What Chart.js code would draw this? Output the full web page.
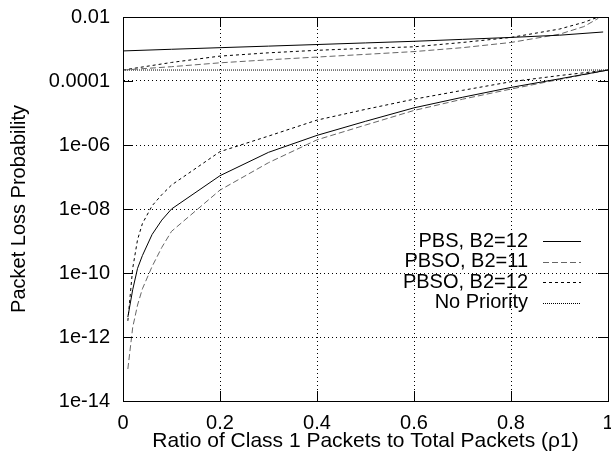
<!DOCTYPE html>
<html>
<head>
<meta charset="utf-8">
<script src="https://cdn.jsdelivr.net/npm/chart.js@4.4.1/dist/chart.umd.min.js"></script>
<style>
  html, body { margin: 0; padding: 0; background: #fff; }
  #wrap { width: 611px; height: 452px; }
</style>
</head>
<body>
<div id="wrap"><canvas id="lossChart"></canvas></div>
<script>
// x positions of the class 1 curves (lower branch)
const xClass1 = [0.01, 0.02, 0.03, 0.04, 0.06, 0.08, 0.1, 0.2, 0.3, 0.4, 0.5, 0.6, 0.7, 0.8, 0.9, 1.0];
const pbsClass1    = [4.2e-12, 3.0e-11, 1.4e-10, 3.5e-10, 1.6e-9, 4.5e-9, 1.0e-8, 1.1e-7, 5.9e-7, 2.0e-6, 5.5e-6, 1.45e-5, 3.1e-5, 6.3e-5, 1.17e-4, 2.2e-4];
const pbso11Class1 = [1.0e-13, 2.0e-12, 1.0e-11, 3.2e-11, 1.6e-10, 6.3e-10, 2.0e-9, 3.9e-8, 2.8e-7, 1.45e-6, 4.2e-6, 1.2e-5, 2.7e-5, 5.6e-5, 1.12e-4, 2.2e-4];
const pbso12Class1 = [3.2e-12, 1.4e-10, 1.1e-9, 3.5e-9, 1.26e-8, 2.8e-8, 5.6e-8, 6.2e-7, 1.9e-6, 6.0e-6, 1.3e-5, 2.7e-5, 5.1e-5, 9.5e-5, 1.48e-4, 2.2e-4];

// class 2 curves (upper branch)
const xPbsClass2  = [0, 0.1, 0.2, 0.3, 0.4, 0.5, 0.6, 0.7, 0.8, 0.9, 0.99];
const pbsClass2   = [8.7e-4, 9.8e-4, 1.1e-3, 1.23e-3, 1.38e-3, 1.55e-3, 1.74e-3, 2.0e-3, 2.3e-3, 2.7e-3, 3.4e-3];
const xPbsoClass2 = [0, 0.1, 0.2, 0.3, 0.4, 0.5, 0.6, 0.7, 0.8, 0.9, 0.95, 0.98];
const pbso12Class2 = [2.2e-4, 3.8e-4, 6.0e-4, 7.6e-4, 9.1e-4, 1.05e-3, 1.17e-3, 1.6e-3, 2.3e-3, 4.2e-3, 6.8e-3, 1.0e-2];
const pbso11Class2 = [2.2e-4, 2.8e-4, 3.7e-4, 4.6e-4, 5.6e-4, 6.8e-4, 8.3e-4, 1.1e-3, 1.6e-3, 2.9e-3, 5.0e-3, 9.1e-3];

const xNoPriority = [0, 0.2, 0.4, 0.6, 0.8, 1.0];
const noPriority  = [2.2e-4, 2.2e-4, 2.2e-4, 2.2e-4, 2.2e-4, 2.2e-4];

const xTicks = [0, 0.2, 0.4, 0.6, 0.8, 1];
const xTickLabels = ['0', '0.2', '0.4', '0.6', '0.8', '1'];
const yTicks = [1e-14, 1e-12, 1e-10, 1e-8, 1e-6, 1e-4, 1e-2];
const yTickLabels = ['1e-14', '1e-12', '1e-10', '1e-08', '1e-06', '0.0001', '0.01'];
const legendLabels = ['PBS, B2=12', 'PBSO, B2=11', 'PBSO, B2=12', 'No Priority'];

function pts(xs, ys) {
  return xs.map((x, i) => ({ x: x, y: ys[i] }));
}

const styles = [
  { color: '#000', dash: [] },
  { color: '#666', dash: [6, 3] },
  { color: '#000', dash: [3, 3] },
  { color: '#000', dash: [1, 1] }
];

function line(data, s, label) {
  return {
    label: label,
    data: data,
    borderColor: s.color,
    borderDash: s.dash,
    borderWidth: 1,
    pointRadius: 0,
    tension: 0,
    fill: false
  };
}

const datasets = [
  line(pts(xClass1, pbsClass1), styles[0], legendLabels[0]),
  line(pts(xPbsClass2, pbsClass2), styles[0], ''),
  line(pts(xClass1, pbso11Class1), styles[1], legendLabels[1]),
  line(pts(xPbsoClass2, pbso11Class2), styles[1], ''),
  line(pts(xClass1, pbso12Class1), styles[2], legendLabels[2]),
  line(pts(xPbsoClass2, pbso12Class2), styles[2], ''),
  line(pts(xNoPriority, noPriority), styles[3], legendLabels[3])
];

Chart.defaults.font.family = '"Liberation Sans", Arial, sans-serif';
Chart.defaults.font.size = 20;
Chart.defaults.color = '#000';

// gnuplot-like frame, inward ticks and key
const framePlugin = {
  id: 'frame',
  afterDatasetsDraw(chart) {
    const ctx = chart.ctx;
    const a = chart.chartArea;
    const xs = chart.scales.x, ys = chart.scales.y;
    ctx.save();
    ctx.strokeStyle = '#000';
    ctx.lineWidth = 1;
    ctx.setLineDash([]);
    ctx.beginPath();
    yTicks.forEach(v => {
      const p = Math.round(ys.getPixelForValue(v)) + 0.5;
      ctx.moveTo(a.left, p); ctx.lineTo(a.left + 10, p);
      ctx.moveTo(a.right, p); ctx.lineTo(a.right - 10, p);
    });
    xTicks.forEach(v => {
      const p = Math.round(xs.getPixelForValue(v)) + 0.5;
      ctx.moveTo(p, a.bottom); ctx.lineTo(p, a.bottom - 10);
      ctx.moveTo(p, a.top); ctx.lineTo(p, a.top + 10);
    });
    ctx.stroke();
    ctx.strokeRect(Math.round(a.left) + 0.5, Math.round(a.top) + 0.5,
      Math.round(a.right - a.left), Math.round(a.bottom - a.top));

    // key
    ctx.font = '20px "Liberation Sans", Arial, sans-serif';
    ctx.textAlign = 'right';
    ctx.textBaseline = 'middle';
    const textRight = a.right - 80;
    legendLabels.forEach((lab, i) => {
      const y = 241 + i * 20.5;
      ctx.fillStyle = '#000';
      ctx.fillText(lab, textRight, y);
      ctx.strokeStyle = styles[i].color;
      ctx.setLineDash(styles[i].dash);
      ctx.beginPath();
      ctx.moveTo(textRight + 15, Math.round(y) + 0.5);
      ctx.lineTo(textRight + 53, Math.round(y) + 0.5);
      ctx.stroke();
    });
    ctx.restore();
  }
};

new Chart(document.getElementById('lossChart'), {
  type: 'line',
  data: { datasets: datasets },
  options: {
    responsive: true,
    maintainAspectRatio: false,
    animation: false,
    layout: { padding: { left: 0, right: 3, top: 17, bottom: 0 } },
    plugins: {
      legend: { display: false },
      tooltip: { enabled: false }
    },
    scales: {
      x: {
        type: 'linear',
        min: 0,
        max: 1,
        afterBuildTicks: s => { s.ticks = xTicks.map(v => ({ value: v })); },
        afterFit: s => { s.height = 51; s.paddingLeft = 0; s.paddingRight = 0; },
        ticks: { padding: 10, maxRotation: 0, autoSkip: false, callback: (v, i) => xTickLabels[i] },
        grid: { color: '#000', lineWidth: 1, drawTicks: false },
        border: { display: true, color: '#000', dash: [1, 3] },
        title: { display: true, text: 'Ratio of Class 1 Packets to Total Packets (ρ1)', padding: { top: 0, bottom: 0 }, font: { size: 21, lineHeight: 1 } }
      },
      y: {
        type: 'logarithmic',
        min: 1e-14,
        max: 1e-2,
        afterBuildTicks: s => { s.ticks = yTicks.map(v => ({ value: v })); },
        afterFit: s => { s.width = 123; s.paddingTop = 0; s.paddingBottom = 0; },
        ticks: { padding: 13, autoSkip: false, callback: (v, i) => yTickLabels[i] },
        grid: { color: '#000', lineWidth: 1, drawTicks: false },
        border: { display: true, color: '#000', dash: [1, 3] },
        title: { display: true, text: 'Packet Loss Probability', padding: { top: 9, bottom: 0 }, font: { size: 20, lineHeight: 1 } }
      }
    }
  },
  plugins: [framePlugin]
});
</script>
</body>
</html>
